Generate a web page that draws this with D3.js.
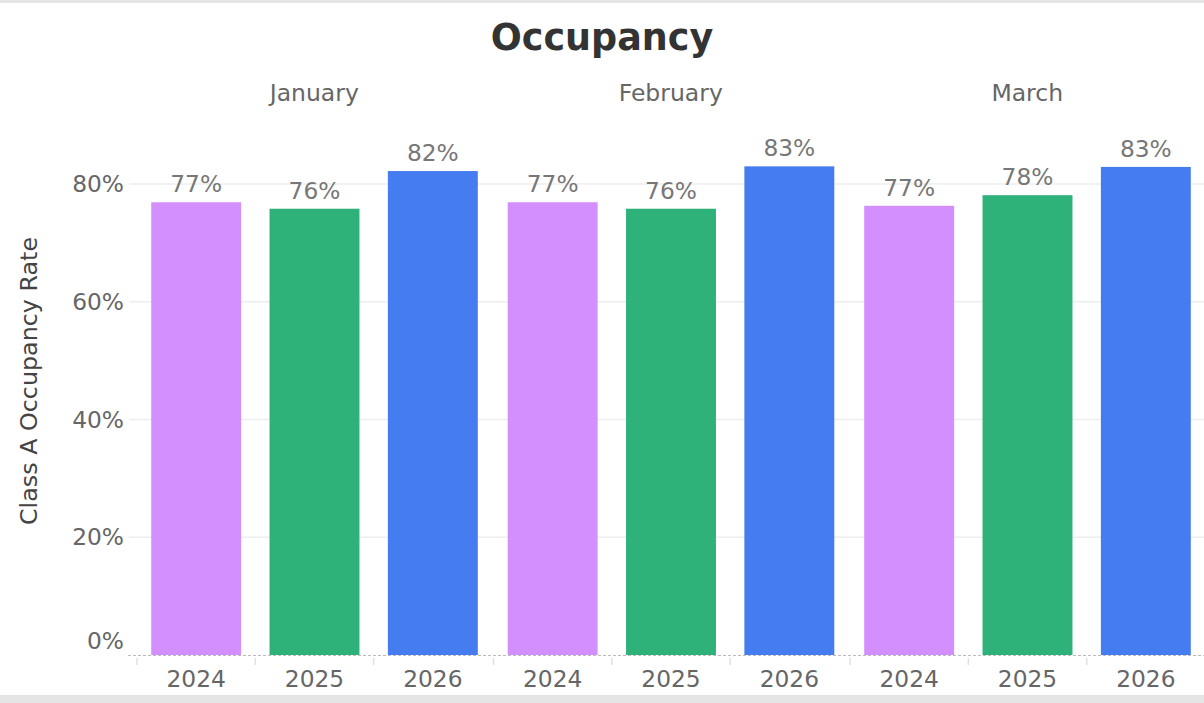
<!DOCTYPE html>
<html>
<head>
<meta charset="utf-8">
<script src="https://cdn.jsdelivr.net/npm/d3@7"></script>
<style>
  html, body { margin: 0; padding: 0; background: #fff; }
  svg { display: block; }
</style>
</head>
<body>
<div id="chart"></div>
<script>
// Occupancy bar chart, faceted by month

const months = ["January", "February", "March"];
const years = ["2024", "2025", "2026"];
const yearColors = ["#d48ffe", "#2eb27a", "#457df0"];

// occupancy rate (%) per month, one value per year
const janValues = [76.9, 75.8, 82.2];
const febValues = [76.9, 75.8, 83.0];
const marValues = [76.3, 78.1, 82.9];
const janLabels = ["77%", "76%", "82%"];
const febLabels = ["77%", "76%", "83%"];
const marLabels = ["77%", "78%", "83%"];

const yTicks = [0, 20, 40, 60, 80];

const allValues = [janValues, febValues, marValues];
const allLabels = [janLabels, febLabels, marLabels];

const data = [];
months.forEach((m, i) => {
    years.forEach((yr, j) => {
        data.push({ month: m, year: yr, value: allValues[i][j], label: allLabels[i][j], color: yearColors[j] });
    });
});

const width = 1204;
const height = 703;
const font = "DejaVu Sans, Verdana, sans-serif";

const svg = d3.select("#chart").append("svg")
    .attr("width", width)
    .attr("height", height);

// grey page bands top and bottom
svg.append("rect").attr("x", 0).attr("y", 0).attr("width", width).attr("height", 3).attr("fill", "#e5e5e5");
svg.append("rect").attr("x", 0).attr("y", 695).attr("width", width).attr("height", 8).attr("fill", "#e5e5e5");

const y = d3.scaleLinear().domain([0, 80]).range([655, 184]);

const outer = d3.scaleBand().domain(months).range([137, 137 + 3 * 356.5]);
const inner = d3.scaleBand().domain(years).range([0, 355])
    .paddingInner(0.24).paddingOuter(0.12);
const slotOffset = (inner.step() - inner.bandwidth()) / 2;

// gridlines
svg.append("g").selectAll("line")
    .data(yTicks.filter(d => d > 0))
    .join("line")
    .attr("x1", 129)
    .attr("x2", width)
    .attr("y1", d => y(d))
    .attr("y2", d => y(d))
    .attr("stroke", "#eeeeee")
    .attr("stroke-width", 1.5);

// y labels
svg.append("g").selectAll("text")
    .data(yTicks)
    .join("text")
    .attr("x", 124)
    .attr("y", d => d === 0 ? y(d) - 6 : y(d))
    .attr("dy", d => d === 0 ? 0 : "0.35em")
    .attr("text-anchor", "end")
    .attr("font-family", font)
    .attr("font-size", "23.3px")
    .attr("fill", "#666")
    .text(d => d + "%");

// y title
svg.append("text")
    .attr("transform", "translate(37,381) rotate(-90)")
    .attr("text-anchor", "middle")
    .attr("font-family", font)
    .attr("font-size", "23.8px")
    .attr("fill", "#444")
    .text("Class A Occupancy Rate");

// title
svg.append("text")
    .attr("x", 602)
    .attr("y", 50)
    .attr("text-anchor", "middle")
    .attr("font-family", font)
    .attr("font-size", "36.5px")
    .attr("font-weight", "bold")
    .attr("fill", "#333")
    .text("Occupancy");

// month headers
svg.append("g").selectAll("text")
    .data(months)
    .join("text")
    .attr("x", d => outer(d) + outer.bandwidth() / 2 - 1)
    .attr("y", 101)
    .attr("text-anchor", "middle")
    .attr("font-family", font)
    .attr("font-size", "23.5px")
    .attr("fill", "#666")
    .text(d => d);

// bars
const bars = svg.append("g");
bars.selectAll("rect")
    .data(data)
    .join("rect")
    .attr("x", d => outer(d.month) + inner(d.year))
    .attr("y", d => y(d.value))
    .attr("width", inner.bandwidth())
    .attr("height", d => y(0) - y(d.value))
    .attr("fill", d => d.color);

// value labels
bars.selectAll("text")
    .data(data)
    .join("text")
    .attr("x", d => outer(d.month) + inner(d.year) + inner.bandwidth() / 2)
    .attr("y", d => y(d.value) - 10)
    .attr("text-anchor", "middle")
    .attr("font-family", font)
    .attr("font-size", "23.3px")
    .attr("fill", "#777")
    .text(d => d.label);

// x axis baseline (dashed)
svg.append("line")
    .attr("x1", 128)
    .attr("x2", width)
    .attr("y1", y(0) + 0.5)
    .attr("y2", y(0) + 0.5)
    .attr("stroke", "#bbb")
    .attr("stroke-width", 1)
    .attr("stroke-dasharray", "3,2");

// x ticks at slot boundaries
svg.append("g").selectAll("line")
    .data(data)
    .join("line")
    .attr("x1", d => outer(d.month) + inner(d.year) - slotOffset)
    .attr("x2", d => outer(d.month) + inner(d.year) - slotOffset)
    .attr("y1", 658)
    .attr("y2", 665)
    .attr("stroke", "#e0e0e0")
    .attr("stroke-width", 1.5);

// x labels
svg.append("g").selectAll("text")
    .data(data)
    .join("text")
    .attr("x", d => outer(d.month) + inner(d.year) + inner.bandwidth() / 2)
    .attr("y", 687)
    .attr("text-anchor", "middle")
    .attr("font-family", font)
    .attr("font-size", "23.3px")
    .attr("fill", "#666")
    .text(d => d.year);
</script>
</body>
</html>
